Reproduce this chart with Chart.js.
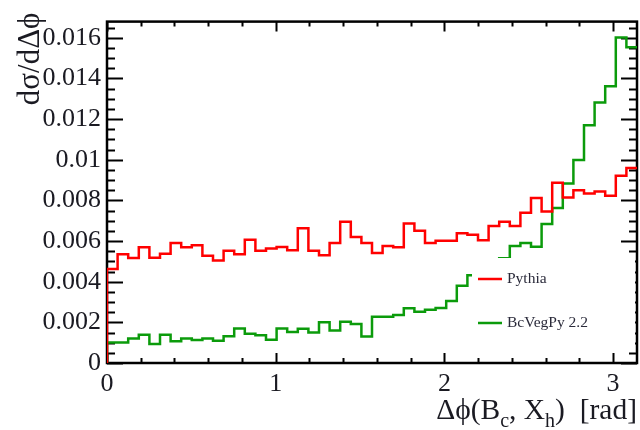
<!DOCTYPE html>
<html>
<head>
<meta charset="utf-8">
<script src="https://cdn.jsdelivr.net/npm/chart.js@4.4.1/dist/chart.umd.min.js"></script>
<style>
  html, body { margin: 0; padding: 0; background: #fff; }
  #wrap { width: 640px; height: 430px; }
</style>
</head>
<body>
<div id="wrap"><canvas id="c" width="640" height="430"></canvas></div>
<script>
// binning: 50 bins over [0, pi]
const nBins = 50;
const xMax = Math.PI;

// bin contents (dsigma/dDeltaphi)
const pythia = [
  0.00463, 0.00535, 0.00517, 0.00569, 0.00518, 0.00537, 0.00590, 0.00570, 0.00580, 0.00528,
  0.00504, 0.00552, 0.00535, 0.00607, 0.00552, 0.00563, 0.00571, 0.00555, 0.00663, 0.00552,
  0.00530, 0.00591, 0.00695, 0.00620, 0.00591, 0.00541, 0.00576, 0.00569, 0.00686, 0.00651,
  0.00591, 0.00601, 0.00602, 0.00639, 0.00631, 0.00604, 0.00674, 0.00695, 0.00674, 0.00739,
  0.00812, 0.00746, 0.00887, 0.00815, 0.00850, 0.00834, 0.00844, 0.00823, 0.00922, 0.00959
];
const bcvegpy = [
  0.00101, 0.00101, 0.00120, 0.00139, 0.00094, 0.00139, 0.00107, 0.00120, 0.00113, 0.00120,
  0.00110, 0.00132, 0.00170, 0.00144, 0.00137, 0.00115, 0.00170, 0.00153, 0.00169, 0.00150,
  0.00200, 0.00160, 0.00203, 0.00192, 0.00131, 0.00227, 0.00227, 0.00236, 0.00269, 0.00252,
  0.00262, 0.00271, 0.00305, 0.00380, 0.00432, 0.00460, 0.00480, 0.00516, 0.00576, 0.00591,
  0.00572, 0.00684, 0.00763, 0.00883, 0.00999, 0.01170, 0.01282, 0.01362, 0.01602, 0.01554
];
const seriesNames = ["Pythia", "BcVegPy 2.2"];
const seriesColors = ["#ff0000", "#0b9b0b"];
const yTickStep = 0.002;
const yMax = 0.0168;
const xTickStep = 1;

const serif = "'Liberation Serif', 'DejaVu Serif', serif";
const textColor = "#1a1a22";

function histPoints(values) {
  // step line: start at 0 on the left edge, one point per bin low edge, close at the upper edge
  const w = xMax / nBins;
  const pts = [{ x: 0, y: 0 }];
  values.forEach((v, i) => pts.push({ x: i * w, y: v }));
  pts.push({ x: xMax, y: values[values.length - 1] });
  return pts;
}

const rootFrame = {
  id: "rootFrame",
  beforeDatasetsDraw(chart) {
    const { ctx, chartArea: a, scales } = chart;
    const xs = scales.x, ys = scales.y;
    ctx.save();
    ctx.strokeStyle = "#000";
    ctx.lineWidth = 2;
    // y ticks (left and right, pointing inward)
    for (let v = 0; v <= yMax + 1e-9; v += yTickStep / 4) {
      const k = Math.round(v / (yTickStep / 4));
      const len = k % 4 === 0 ? 16 : 8;
      const py = Math.round(ys.getPixelForValue(v)) + 0.5;
      ctx.beginPath();
      ctx.moveTo(a.left, py); ctx.lineTo(a.left + len, py);
      ctx.moveTo(a.right, py); ctx.lineTo(a.right - len, py);
      ctx.stroke();
    }
    // x ticks (bottom and top)
    for (let v = 0; v <= xMax + 1e-9; v += xTickStep / 5) {
      const k = Math.round(v / (xTickStep / 5));
      const len = k % 5 === 0 ? 10 : 5;
      const px = Math.round(xs.getPixelForValue(v)) + 0.5;
      ctx.beginPath();
      ctx.moveTo(px, a.bottom); ctx.lineTo(px, a.bottom - len);
      ctx.moveTo(px, a.top); ctx.lineTo(px, a.top + len);
      ctx.stroke();
    }
    ctx.lineWidth = 2.5;
    ctx.strokeRect(a.left, a.top, a.right - a.left, a.bottom - a.top);
    ctx.restore();
  },
  afterDatasetsDraw(chart) {
    const { ctx, chartArea: a } = chart;
    ctx.save();
    // legend box (white fill, no border)
    const bx = a.right - 165, by = a.bottom - 105;
    ctx.fillStyle = "#fff";
    ctx.fillRect(bx, by, 163, 90);
    ctx.font = "15.5px " + serif;
    ctx.textBaseline = "middle";
    ctx.lineWidth = 2.5;
    const rows = [by + 21, by + 65];
    seriesNames.forEach((name, i) => {
      ctx.strokeStyle = seriesColors[i];
      ctx.beginPath();
      ctx.moveTo(bx + 6, rows[i]); ctx.lineTo(bx + 30, rows[i]);
      ctx.stroke();
      ctx.fillStyle = "#2a2a3a";
      ctx.fillText(name, bx + 35, rows[i]);
    });

    // x axis title with subscripts, right aligned
    const big = 29.5, small = 20;
    const parts = [["\u0394\u03d5(B", 0], ["c", 1], [", X", 0], ["h", 1], [")  [rad]", 0]];
    let total = 0;
    parts.forEach(p => {
      ctx.font = (p[1] ? small : big) + "px " + serif;
      total += ctx.measureText(p[0]).width;
    });
    let x = a.right - total;
    const base = 419;
    ctx.fillStyle = textColor;
    ctx.textBaseline = "alphabetic";
    parts.forEach(p => {
      ctx.font = (p[1] ? small : big) + "px " + serif;
      ctx.fillText(p[0], x, base + (p[1] ? 8 : 0));
      x += ctx.measureText(p[0]).width;
    });

    // y axis title, rotated, aligned to top end
    ctx.translate(39, a.top - 9);
    ctx.rotate(-Math.PI / 2);
    ctx.font = "31px " + serif;
    ctx.textAlign = "right";
    ctx.fillText("d\u03c3/d\u0394\u03d5", 0, 0);
    ctx.restore();
  }
};

new Chart(document.getElementById("c"), {
  type: "line",
  data: {
    datasets: [
      {
        label: seriesNames[0],
        data: histPoints(pythia),
        borderColor: seriesColors[0],
        borderWidth: 2.5,
        stepped: true,
        pointRadius: 0,
        fill: false,
      },
      {
        label: seriesNames[1],
        data: histPoints(bcvegpy),
        borderColor: seriesColors[1],
        borderWidth: 2.5,
        stepped: true,
        pointRadius: 0,
        fill: false,
      },
    ],
  },
  options: {
    responsive: false,
    animation: false,
    layout: { padding: { left: 0, right: 3, top: 12, bottom: 0 } },
    plugins: {
      legend: { display: false },
      tooltip: { enabled: false },
    },
    scales: {
      x: {
        type: "linear",
        min: 0,
        max: xMax,
        grid: { display: false, drawTicks: false },
        border: { display: false },
        ticks: {
          stepSize: xTickStep,
          includeBounds: false,
          padding: 6,
          color: textColor,
          font: { family: serif, size: 26 },
          callback: (v) => String(v),
        },
        afterFit: (s) => { s.height = 67; },
      },
      y: {
        min: 0,
        max: yMax,
        grid: { display: false, drawTicks: false },
        border: { display: false },
        ticks: {
          stepSize: yTickStep,
          includeBounds: false,
          padding: 6,
          color: textColor,
          font: { family: serif, size: 26 },
          callback: (v) => String(Number(v.toFixed(3))),
        },
        afterFit: (s) => { s.width = 107; },
      },
    },
  },
  plugins: [rootFrame],
});
</script>
</body>
</html>
